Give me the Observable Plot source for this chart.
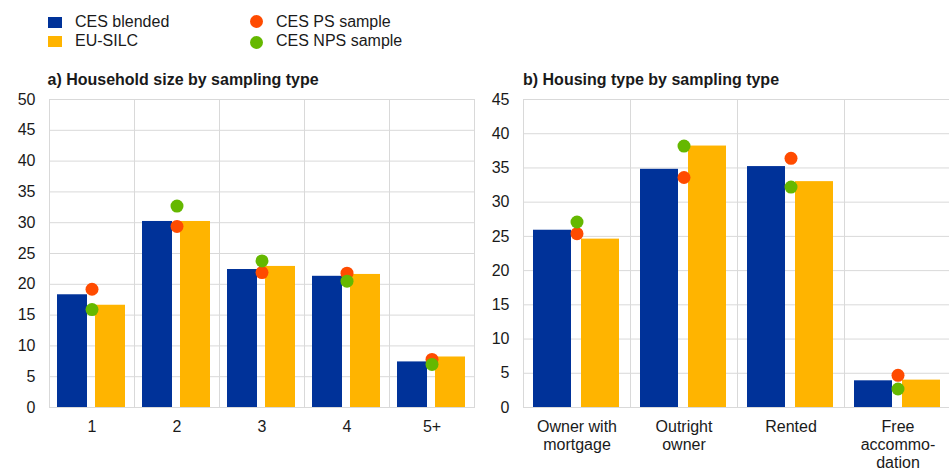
<!DOCTYPE html>
<html><head><meta charset="utf-8">
<script src="https://cdn.jsdelivr.net/npm/d3@7"></script>
<script src="https://cdn.jsdelivr.net/npm/@observablehq/plot@0.6"></script>
<style>
body{margin:0;background:#fff;font-family:"Liberation Sans",Arial,sans-serif;color:#1a1a1a;}
#wrap{position:relative;width:949px;height:470px;overflow:hidden;}
.abs{position:absolute;white-space:nowrap;}
.lt{font-size:16px;line-height:18px;}
.sq{position:absolute;width:14px;height:11px;}
.ci{position:absolute;width:13px;height:13px;border-radius:50%;}
.ttl{font-size:16px;line-height:18px;font-weight:bold;}
</style></head><body><div id="wrap"></div>
<script>
// Series / categories
const seriesBars = ["CES blended", "EU-SILC"];
const seriesDots = ["CES PS sample", "CES NPS sample"];
const colors = {"CES blended":"#003299","EU-SILC":"#ffb400","CES PS sample":"#ff4b00","CES NPS sample":"#65b800"};

// Panel a) Household size
const sizeCats = ["1","2","3","4","5+"];
const sizeLabels = ["1","2","3","4","5+"];
const sizeBlended = [18.3,30.2,22.4,21.3,7.4];
const sizeSilc = [16.6,30.2,22.9,21.6,8.2];
const sizePS = [19.2,29.4,21.9,21.8,7.8];
const sizeNPS = [15.9,32.7,23.8,20.5,7.0];
const sizeTicks = [0,5,10,15,20,25,30,35,40,45,50];

// Panel b) Housing type
const houseCats = ["Owner with mortgage","Outright owner","Rented","Free accommodation"];
const houseLabels = ["Owner with\nmortgage","Outright\nowner","Rented","Free\naccommo-\ndation"];
const houseBlended = [25.9,34.8,35.2,3.9];
const houseSilc = [24.6,38.2,33.0,4.0];
const housePS = [25.4,33.6,36.4,4.7];
const houseNPS = [27.1,38.2,32.2,2.7];
const houseTicks = [0,5,10,15,20,25,30,35,40,45];

const font = '"Liberation Sans", Arial, sans-serif';
const grid = "#d9d9d9";

function panel(cats, labels, blended, silc, ps, nps, ticks, width, marginLeft, marginRight) {
  const bars = cats.flatMap((c,i)=>[
    {cat:c, series:seriesBars[0], value:blended[i]},
    {cat:c, series:seriesBars[1], value:silc[i]}]);
  const psRows = cats.map((c,i)=>({cat:c, series:seriesDots[0], value:ps[i]}));
  const npsRows = cats.map((c,i)=>({cat:c, series:seriesDots[1], value:nps[i]}));
  return Plot.plot({
    width, height:380, marginTop:9, marginBottom:63, marginLeft, marginRight,
    style:{fontFamily:font, fontSize:"16px", color:"#1a1a1a", background:"transparent", overflow:"visible"},
    fx:{domain:cats, padding:0, label:null},
    x:{domain:seriesBars, padding:0.2, axis:null},
    y:{domain:[ticks[0], ticks[ticks.length-1]], axis:null},
    marks:[
      Plot.gridY(ticks, {stroke:grid, strokeOpacity:1}),
      Plot.frame({stroke:grid}),
      Plot.barY(bars, {fx:"cat", x:"series", y:"value", fill:d=>colors[d.series]}),
      Plot.dot(psRows, {fx:"cat", y:"value", r:6.5, fill:colors[seriesDots[0]]}),
      Plot.dot(npsRows, {fx:"cat", y:"value", r:6.5, fill:colors[seriesDots[1]]}),
      Plot.axisY({ticks, tickSize:0, tickPadding:14, fontSize:16, label:null}),
      Plot.axisFx({anchor:"bottom", tickSize:0, tickPadding:11, label:null, fontSize:16, lineHeight:1.15,
        tickFormat:d=>labels[cats.indexOf(d)]})
    ]
  });
}

const wrap = document.getElementById("wrap");
function add(el, css){ el.classList.add("abs"); Object.assign(el.style, css); wrap.appendChild(el); return el; }

// Legend
const legendItems = [
  {name:seriesBars[0], shape:"sq", x:48, y:17, tx:75, ty:12.7},
  {name:seriesBars[1], shape:"sq", x:48, y:36, tx:75, ty:32},
  {name:seriesDots[0], shape:"ci", x:249.5, y:15, tx:276, ty:12.7},
  {name:seriesDots[1], shape:"ci", x:249.5, y:35.5, tx:276, ty:32}
];
legendItems.forEach(it=>{
  const s = document.createElement("div"); s.className = it.shape;
  s.style.left = it.x+"px"; s.style.top = it.y+"px"; s.style.background = colors[it.name];
  wrap.appendChild(s);
  const t = document.createElement("div"); t.className="lt"; t.textContent = it.name;
  add(t, {left:it.tx+"px", top:it.ty+"px"});
});

// Titles
const t1 = document.createElement("div"); t1.className="ttl"; t1.textContent="a) Household size by sampling type";
add(t1,{left:"47.5px", top:"71.4px"});
const t2 = document.createElement("div"); t2.className="ttl"; t2.textContent="b) Housing type by sampling type";
add(t2,{left:"523px", top:"71.4px"});

// Charts
const c1 = panel(sizeCats, sizeLabels, sizeBlended, sizeSilc, sizePS, sizeNPS, sizeTicks, 480, 48, 6);
add(c1, {left:"0px", top:"90px"});
const c2 = panel(houseCats, houseLabels, houseBlended, houseSilc, housePS, houseNPS, houseTicks, 471, 43, 0);
add(c2, {left:"480px", top:"90px"});
</script></body></html>
